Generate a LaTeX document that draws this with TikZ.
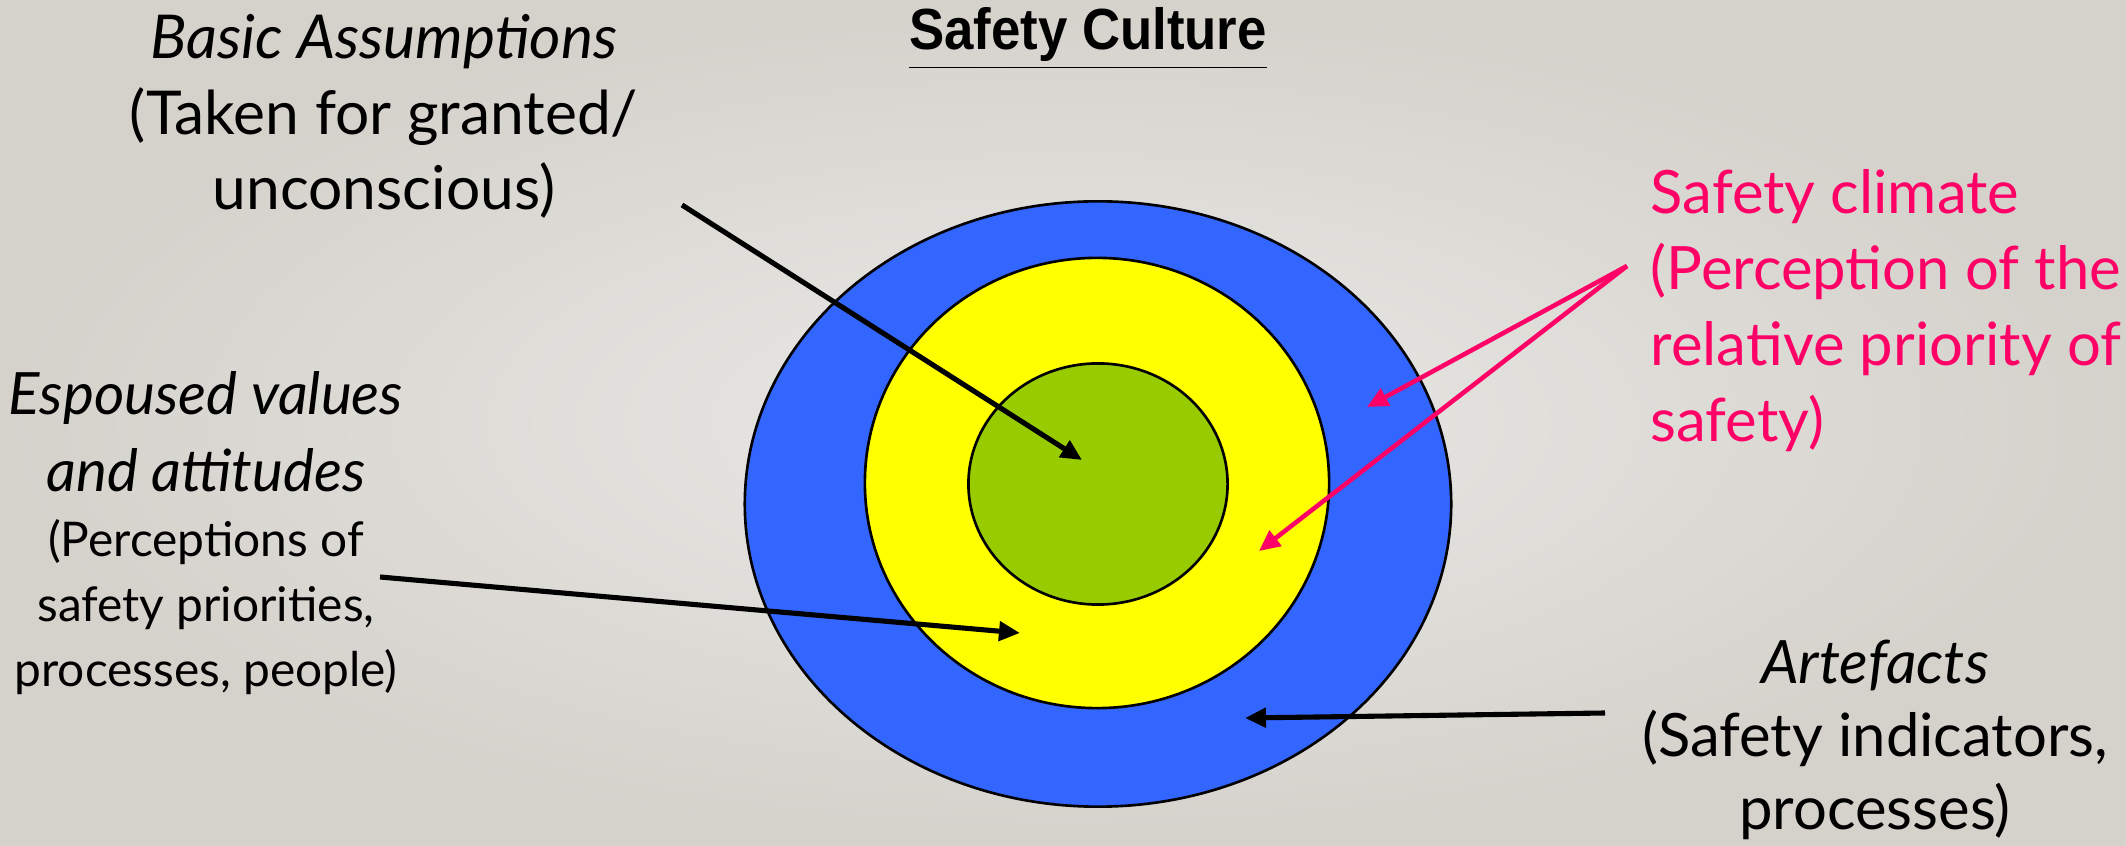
\documentclass[tikz,border=0pt]{standalone}
\usepackage{fontspec}
\setmainfont{Lato}
\newfontfamily\titlefont{Liberation Sans}
\usetikzlibrary{arrows.meta, shapes.geometric}

\definecolor{climatepink}{RGB}{255,0,102}
\definecolor{ringblue}{RGB}{51,102,255}
\definecolor{ringyellow}{RGB}{255,255,0}
\definecolor{ringgreen}{RGB}{153,204,0}
\definecolor{bgin}{RGB}{234,233,230}
\definecolor{bgout}{RGB}{213,210,204}

\begin{document}
\begin{tikzpicture}[x=0.01cm, y=-0.01cm,
  ring/.style={draw, ellipse, line width=0.75pt, inner sep=0pt},
  lbl/.style={inner sep=0pt, align=center, font=\fontsize{16.6}{21.6}\selectfont},
  note/.style={inner sep=0pt, align=center, font=\fontsize{13.6}{18.5}\selectfont},
  arr/.style={-{Triangle[length=0.21cm, width=0.19cm]}, line width=1.45pt}
]
  \useasboundingbox (0,0) rectangle (2126,846);
  \fill[inner color=bgin, outer color=bgout] (0,0) rectangle (2126,846);

  % the three layers
  \node[ring, fill=ringblue, minimum width=7.06cm, minimum height=6.05cm] (artefacts) at (1098,504) {};
  \node[ring, fill=ringyellow, minimum width=4.64cm, minimum height=4.50cm] (values) at (1097,483) {};
  \node[ring, fill=ringgreen, minimum width=2.59cm, minimum height=2.41cm] (core) at (1098,484) {};

  \node[anchor=base, inner sep=0pt, font=\titlefont\bfseries\fontsize{15}{18}\selectfont] (title) at (1088,50) {\scalebox{1}[1.1]{\underline{Safety Culture}}};

  % labels (base = last line)
  \node[lbl, anchor=base, font=\fontsize{17.2}{21.5}\selectfont] (basicTxt) at (384,210) {\textit{Basic Assumptions}\\(Taken for granted/\\unconscious)};
  \node[lbl, anchor=base, font=\itshape\fontsize{16.6}{21.9}\selectfont] (valuesTxt) at (206,492) {Espoused values\\and attitudes};
  \node[note, anchor=base] (valuesNote) at (206,687) {(Perceptions of\\safety priorities,\\processes, people)};
  \node[lbl, anchor=base west, align=left, text=climatepink, font=\fontsize{17}{21.7}\selectfont] (climateTxt) at (1650,442) {Safety climate\\(Perception of the\\relative priority of\\safety)};
  \node[lbl, anchor=base, font=\fontsize{17}{20.9}\selectfont] (artefactsTxt) at (1875,830) {\textit{Artefacts}\\(Safety indicators,\\processes)};

  % arrow ends
  \coordinate (basicTail) at (682,205);
  \coordinate (basicTip) at (1082,460);
  \coordinate (valuesTail) at (380,577);
  \coordinate (valuesTip) at (1020,633);
  \coordinate (artefactsTail) at (1605,713);
  \coordinate (artefactsTip) at (1245,718);
  \coordinate (climateTail) at (1627,266);
  \coordinate (climateTipA) at (1367,407);
  \coordinate (climateTipB) at (1259,551);

  \draw[arr] (basicTail) -- (basicTip);
  \draw[arr] (valuesTail) -- (valuesTip);
  \draw[arr] (artefactsTail) -- (artefactsTip);
  \draw[arr, climatepink, line width=1.3pt] (climateTail) -- (climateTipA);
  \draw[arr, climatepink, line width=1.3pt] (climateTail) -- (climateTipB);
\end{tikzpicture}
\end{document}
